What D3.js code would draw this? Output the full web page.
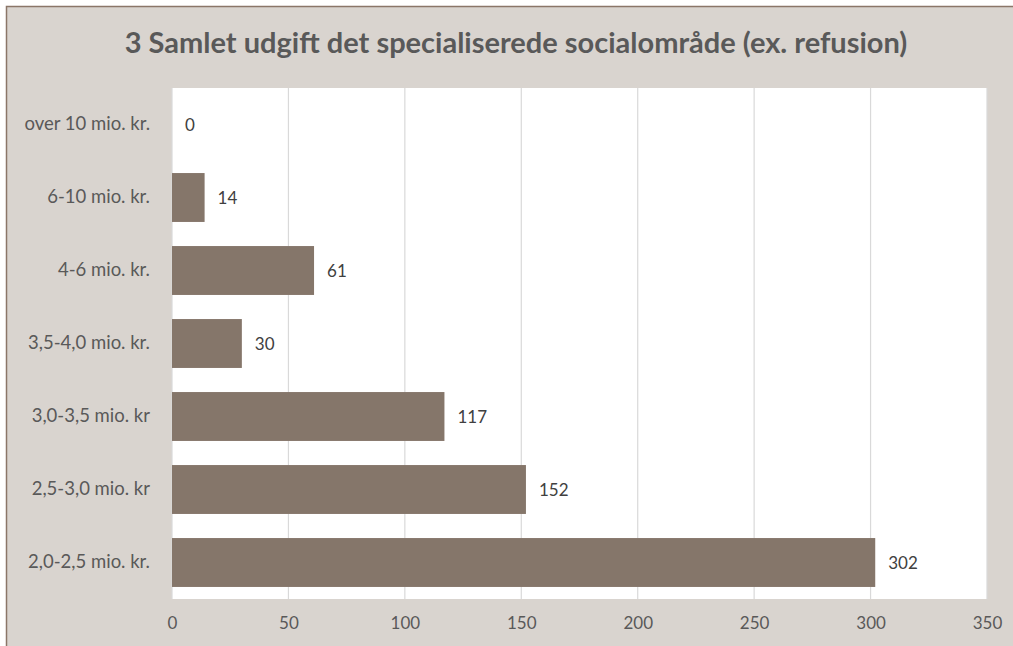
<!DOCTYPE html>
<html><head><meta charset="utf-8">
<script src="https://cdn.jsdelivr.net/npm/d3@7"></script>
<style>body{margin:0;background:#fff}svg{display:block}</style>
</head><body>
<svg id="c" width="1013" height="646"></svg>
<script>
const categories = ["over 10 mio. kr.","6-10 mio. kr.","4-6 mio. kr.","3,5-4,0 mio. kr.","3,0-3,5 mio. kr","2,5-3,0 mio. kr","2,0-2,5 mio. kr."];
const values = [0,14,61,30,117,152,302];
const xTicks = [0,50,100,150,200,250,300,350];
const title = "3 Samlet udgift det specialiserede socialområde (ex. refusion)";

(function(){
const svg = d3.select("#c");
const font = "Lato, 'Open Sans', sans-serif";
svg.append("rect").attr("x",6.5).attr("y",6.5).attr("width",1030).attr("height",660)
  .attr("fill","#d9d4cf").attr("stroke","#8b7668").attr("stroke-width",1.5);

const pl=172, pr=987, pt=88, pb=599;
const x = d3.scaleLinear().domain([0,350]).range([pl,pr]);
const y = d3.scaleBand().domain(categories).range([pt,pb]).paddingInner(0.33).paddingOuter(0.165);

svg.append("rect").attr("x",pl).attr("y",pt).attr("width",pr-pl).attr("height",pb-pt).attr("fill","#fff");

svg.append("g").selectAll("line").data(xTicks).join("line")
  .attr("x1",d=>x(d)).attr("x2",d=>x(d)).attr("y1",pt).attr("y2",pb)
  .attr("stroke","#d9d9d9").attr("stroke-width",1.2);

svg.append("g").selectAll("rect").data(values).join("rect")
  .attr("x",x(0)).attr("y",(d,i)=>y(categories[i])).attr("width",d=>x(d)-x(0)).attr("height",y.bandwidth())
  .attr("fill","#85766a");

svg.append("g").selectAll("text").data(values).join("text")
  .attr("x",d=>x(d)+13).attr("y",(d,i)=>y(categories[i])+y.bandwidth()/2).attr("dy","0.36em")
  .attr("font-family",font).attr("font-size",17).attr("fill","#404040").text(d=>d);

const xa = svg.append("g").attr("transform",`translate(0,${pb})`).call(d3.axisBottom(x).tickValues(xTicks).tickSize(0).tickPadding(18));
xa.select(".domain").remove();
xa.selectAll("text").attr("font-family",font).attr("font-size",17).attr("fill","#595959");

const ya = svg.append("g").attr("transform",`translate(${pl},0)`).call(d3.axisLeft(y).tickSize(0).tickPadding(22));
ya.select(".domain").remove();
ya.selectAll("text").attr("font-family",font).attr("font-size",18.5).attr("fill","#595959");

svg.append("text").attr("x",516).attr("y",53).attr("text-anchor","middle")
  .attr("font-family",font).attr("font-weight","bold").attr("font-size",29).attr("fill","#595959").text(title);
})();
</script>
</body></html>
